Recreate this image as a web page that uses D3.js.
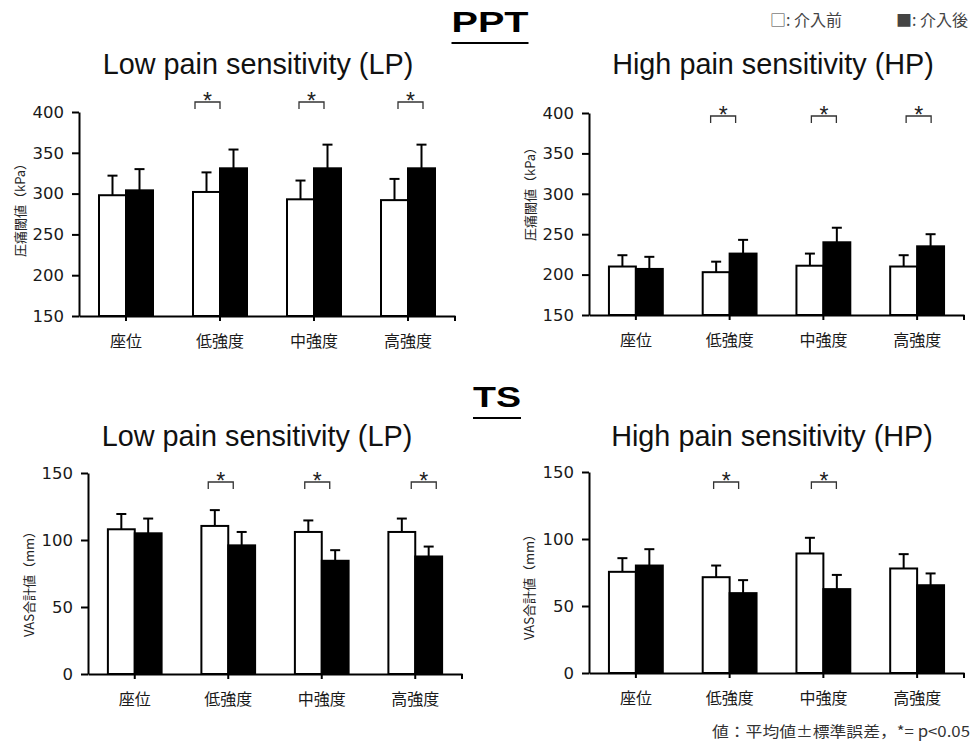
<!DOCTYPE html>
<html>
<head>
<meta charset="UTF-8">
<title>PPT / TS 介入前後</title>
<style>
  body { margin: 0; background: #fff; }
</style>
</head>
<body>
<div id="chart"></div>
<script src="https://cdn.jsdelivr.net/npm/d3@7"></script>
<script>
// ---- data ----
var categories = ["座位", "低強度", "中強度", "高強度"];

var pptTicks = [150, 200, 250, 300, 350, 400];
var tsTicks = [0, 50, 100, 150];

// PPT, low pain sensitivity
var pptLpPre = [298, 302, 293, 292];
var pptLpPreSe = [24, 24, 23, 26];
var pptLpPost = [304, 331, 331, 331];
var pptLpPostSe = [26, 23, 29, 29];
var pptLpSig = [false, true, true, true];

// PPT, high pain sensitivity
var pptHpPre = [210, 203, 211, 210];
var pptHpPreSe = [14, 13, 15, 14];
var pptHpPost = [207, 226, 240, 235];
var pptHpPostSe = [15, 17, 18, 15];
var pptHpSig = [false, true, true, true];

// TS, low pain sensitivity
var tsLpPre = [108, 110.5, 106, 106];
var tsLpPreSe = [11.4, 11.8, 8.6, 10];
var tsLpPost = [105, 96, 84.5, 87.7];
var tsLpPostSe = [11, 10, 7.9, 7.4];
var tsLpSig = [false, true, true, true];

// TS, high pain sensitivity
var tsHpPre = [75.5, 71.5, 89.2, 78];
var tsHpPreSe = [10.2, 8.7, 11.7, 10.7];
var tsHpPost = [80.2, 59.6, 62.6, 65.5];
var tsHpPostSe = [12.2, 9.7, 10.6, 8.8];
var tsHpSig = [false, true, true, false];

// ---- layout ----
var width = 976, height = 742;
var svg = d3.select("#chart").append("svg")
    .attr("width", width)
    .attr("height", height);

var panels = [
  {x0: 79, x1: 455, y0: 112, y1: 316, domain: [150, 400], ticks: pptTicks,
   pre: pptLpPre, preSe: pptLpPreSe, post: pptLpPost, postSe: pptLpPostSe, sig: pptLpSig,
   yTitle: "圧痛閾値（kPa）", yTitleX: 19, yTitleY: 207, brY: 102, brShift: [0, -25, -15, -10]},
  {x0: 589, x1: 964, y0: 113, y1: 315, domain: [150, 400], ticks: pptTicks,
   pre: pptHpPre, preSe: pptHpPreSe, post: pptHpPost, postSe: pptHpPostSe, sig: pptHpSig,
   yTitle: "圧痛閾値（kPa）", yTitleX: 529, yTitleY: 191, brY: 116, brShift: [0, -19, -12, -11]},
  {x0: 88, x1: 462, y0: 473, y1: 674, domain: [0, 150], ticks: tsTicks,
   pre: tsLpPre, preSe: tsLpPreSe, post: tsLpPost, postSe: tsLpPostSe, sig: tsLpSig,
   yTitle: "VAS合計値（mm）", yTitleX: 28, yTitleY: 581, brY: 482, brShift: [0, -20, -17, -4]},
  {x0: 589, x1: 964, y0: 472, y1: 673, domain: [0, 150], ticks: tsTicks,
   pre: tsHpPre, preSe: tsHpPreSe, post: tsHpPost, postSe: tsHpPostSe, sig: tsHpSig,
   yTitle: "VAS合計値（mm）", yTitleX: 528, yTitleY: 584, brY: 482, brShift: [0, -16, -12, 0]}
];

var latin = "'Liberation Sans', Arial, sans-serif";
var cjk = "'Noto Sans CJK JP', 'Noto Sans CJK SC', sans-serif";

function drawPanel(p) {
  var g = svg.append("g");

  var x = d3.scaleBand()
      .domain(categories)
      .range([p.x0, p.x1])
      .paddingInner(40 / 94)
      .paddingOuter(20 / 94);
  var sub = d3.scaleBand()
      .domain(["pre", "post"])
      .range([0, x.bandwidth()]);
  var y = d3.scaleLinear()
      .domain(p.domain)
      .range([p.y1, p.y0]);

  var rows = [];
  categories.forEach(function (c, i) {
    rows.push({cat: c, key: "pre", v: p.pre[i], se: p.preSe[i]});
    rows.push({cat: c, key: "post", v: p.post[i], se: p.postSe[i]});
  });

  // error bars (upper only)
  var eb = g.selectAll(".eb").data(rows).enter().append("g").attr("class", "eb");
  eb.append("line")
      .attr("x1", function (d) { return x(d.cat) + sub(d.key) + sub.bandwidth() / 2; })
      .attr("x2", function (d) { return x(d.cat) + sub(d.key) + sub.bandwidth() / 2; })
      .attr("y1", function (d) { return y(d.v); })
      .attr("y2", function (d) { return y(d.v + d.se); })
      .attr("stroke", "#000").attr("stroke-width", 2);
  eb.append("line")
      .attr("x1", function (d) { return x(d.cat) + sub(d.key) + sub.bandwidth() / 2 - 5; })
      .attr("x2", function (d) { return x(d.cat) + sub(d.key) + sub.bandwidth() / 2 + 5; })
      .attr("y1", function (d) { return y(d.v + d.se); })
      .attr("y2", function (d) { return y(d.v + d.se); })
      .attr("stroke", "#000").attr("stroke-width", 2);

  // bars
  g.selectAll(".bar").data(rows).enter().append("rect")
      .attr("class", "bar")
      .attr("x", function (d) { return x(d.cat) + sub(d.key); })
      .attr("y", function (d) { return y(d.v); })
      .attr("width", sub.bandwidth())
      .attr("height", function (d) { return y(p.domain[0]) - y(d.v); })
      .attr("fill", function (d) { return d.key == "pre" ? "#fff" : "#000"; })
      .attr("stroke", "#000")
      .attr("stroke-width", 2);

  // y axis
  var ya = g.append("g")
      .attr("transform", "translate(" + p.x0 + ",0)")
      .call(d3.axisLeft(y).tickValues(p.ticks).tickSize(7).tickSizeOuter(0).tickPadding(8));
  ya.select(".domain").attr("stroke-width", 2);
  ya.selectAll(".tick line").attr("stroke-width", 2);
  ya.selectAll(".tick text")
      .attr("font-family", "'DejaVu Sans', sans-serif")
      .attr("font-size", 16.5)
      .attr("fill", "#1a1a1a");

  // x axis
  var xa = g.append("g")
      .attr("transform", "translate(0," + p.y1 + ")")
      .call(d3.axisBottom(x).tickSize(5).tickSizeOuter(0).tickPadding(15));
  xa.select(".domain").attr("stroke-width", 2);
  xa.selectAll(".tick line").attr("stroke-width", 2);
  xa.selectAll(".tick text")
      .attr("font-family", cjk)
      .attr("font-size", 16)
      .attr("fill", "#1a1a1a");
  xa.append("line")
      .attr("x1", x.range()[1]).attr("x2", x.range()[1])
      .attr("y1", 0).attr("y2", 5)
      .attr("stroke", "#000").attr("stroke-width", 2);

  // y title
  g.append("text")
      .attr("transform", "translate(" + p.yTitleX + "," + p.yTitleY + ") rotate(-90)")
      .attr("text-anchor", "middle")
      .attr("dominant-baseline", "central")
      .attr("font-family", cjk)
      .attr("font-size", 13)
      .attr("fill", "#222")
      .text(p.yTitle);

  // significance brackets
  var sigCats = categories.filter(function (c, i) { return p.sig[i]; });
  var br = g.selectAll(".br").data(sigCats).enter().append("g").attr("class", "br");
  br.append("path")
      .attr("d", function (c) {
        var cx = x(c) + x.bandwidth() / 2 + p.brShift[categories.indexOf(c)];
        return "M" + cx + "," + (p.brY + 7) + "V" + p.brY + "H" + (cx + 25) + "V" + (p.brY + 7);
      })
      .attr("fill", "none")
      .attr("stroke", "#333")
      .attr("stroke-width", 1.3);
  br.append("text")
      .attr("x", function (c) { return x(c) + x.bandwidth() / 2 + p.brShift[categories.indexOf(c)] + 12.5; })
      .attr("y", p.brY + 7)
      .attr("text-anchor", "middle")
      .attr("font-family", latin)
      .attr("font-size", 23)
      .attr("fill", "#222")
      .text("*");
}

panels.forEach(drawPanel);

// section titles
function sectionTitle(txt, cx, base, len) {
  svg.append("text")
      .attr("x", cx).attr("y", base)
      .attr("text-anchor", "middle")
      .attr("font-family", latin)
      .attr("font-weight", "bold")
      .attr("font-size", 29)
      .attr("textLength", len)
      .attr("lengthAdjust", "spacingAndGlyphs")
      .attr("fill", "#000")
      .text(txt);
  svg.append("line")
      .attr("x1", cx - len / 2).attr("x2", cx + len / 2)
      .attr("y1", base + 11).attr("y2", base + 11)
      .attr("stroke", "#000").attr("stroke-width", 2);
}
sectionTitle("PPT", 490, 32, 77);
sectionTitle("TS", 497, 407, 48);

var subTitles = [
  {t: "Low pain sensitivity (LP)", x: 258, y: 74},
  {t: "High pain sensitivity (HP)", x: 773, y: 74},
  {t: "Low pain sensitivity (LP)", x: 257, y: 446},
  {t: "High pain sensitivity (HP)", x: 772, y: 446}
];
svg.selectAll(".subtitle").data(subTitles).enter().append("text")
    .attr("class", "subtitle")
    .attr("x", function (d) { return d.x; })
    .attr("y", function (d) { return d.y; })
    .attr("text-anchor", "middle")
    .attr("font-family", latin)
    .attr("font-size", 28.8)
    .attr("fill", "#111")
    .text(function (d) { return d.t; });

// legend
svg.append("text")
    .attr("x", 770).attr("y", 26)
    .attr("font-family", cjk)
    .attr("font-size", 16)
    .attr("fill", "#444")
    .text("□: 介入前");
svg.append("text")
    .attr("x", 968).attr("y", 26)
    .attr("text-anchor", "end")
    .attr("font-family", cjk)
    .attr("font-size", 16)
    .attr("fill", "#444")
    .text("■: 介入後");

// footnote
svg.append("text")
    .attr("x", 970).attr("y", 737)
    .attr("text-anchor", "end")
    .attr("font-family", cjk)
    .attr("font-size", 15)
    .attr("textLength", 258)
    .attr("lengthAdjust", "spacingAndGlyphs")
    .attr("fill", "#333")
    .text("値：平均値±標準誤差，*= p<0.05");
</script>
</body>
</html>
